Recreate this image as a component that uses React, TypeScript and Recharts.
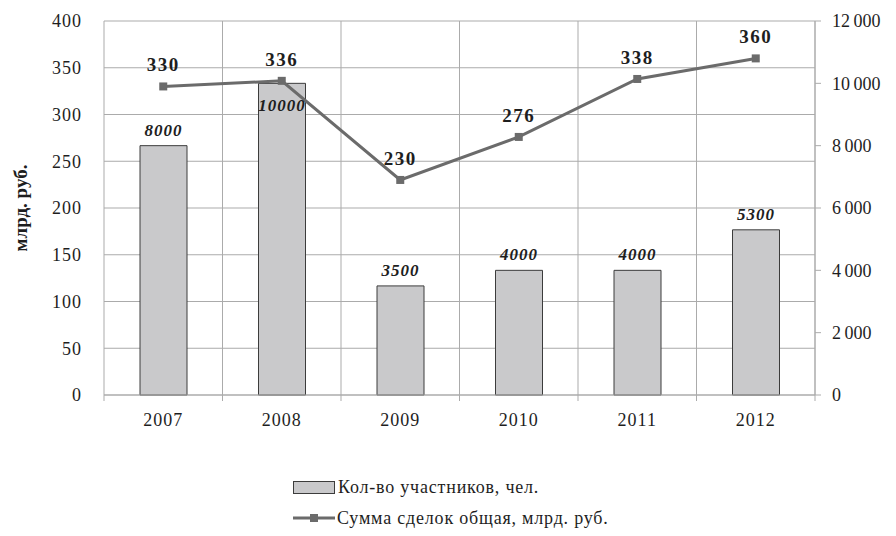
import React from 'react'
import {
  Bar, CartesianGrid, ComposedChart, LabelList, Legend, Line, XAxis, YAxis,
} from 'recharts'

const years = ['2007', '2008', '2009', '2010', '2011', '2012']
const participants = [8000, 10000, 3500, 4000, 4000, 5300]
const dealsSum = [330, 336, 230, 276, 338, 360]
const leftTicks = [0, 50, 100, 150, 200, 250, 300, 350, 400]
const rightTicks = [0, 2000, 4000, 6000, 8000, 10000, 12000]

const barName = 'Кол-во участников, чел.'
const lineName = 'Сумма сделок общая, млрд. руб.'

const data = years.map((y, i) => ({ year: y, participants: participants[i], deals: dealsSum[i] }))

// размеры
const W = 896
const H = 536
const M = { top: 21, right: 0, bottom: 1, left: 0 }
const LEFT_W = 104
const RIGHT_W = 81
const PLOT_W = W - LEFT_W - RIGHT_W
const BAND = PLOT_W / years.length
const PLOT_TOP = 21
const PLOT_BOTTOM = 395

const FONT = '"Liberation Serif", "Times New Roman", Tinos'
const TXT = '#1e1e1e'
const GRID = '#ababab'
const LINE = '#6b6b6b'
const BAR_FILL = '#c9c9cb'
const BAR_STROKE = '#3c3c3c'

const fmtRight = (v: number) => String(v).replace(/\B(?=(\d{3})+(?!\d))/g, '\u2009')

function XTick({ x, y, payload, index }: any) {
  const left = x - BAND / 2
  const right = x + BAND / 2
  return (
    <g>
      <line x1={left} x2={left} y1={y} y2={y + 6} stroke={GRID} />
      {index === years.length - 1 && <line x1={right} x2={right} y1={y} y2={y + 6} stroke={GRID} />}
      <text x={x} y={y + 31} textAnchor="middle" fontSize={18} letterSpacing={1} fill={TXT} style={{ fontFamily: FONT }}>{payload.value}</text>
    </g>
  )
}

function MarkerDot({ cx, cy }: any) {
  if (cx == null || cy == null) return null
  return <rect x={cx - 4} y={cy - 4} width={8} height={8} fill={LINE} />
}

// подпись столбца: если точка линии прямо над вершиной — кладём внутрь
function BarLabel({ x, y, width, value, index }: any) {
  const lineY = PLOT_TOP + (1 - dealsSum[index] / 400) * (PLOT_BOTTOM - PLOT_TOP)
  const inside = y - lineY < 30
  const ty = inside ? y + 28 : y - 10
  return (
    <text x={x + width / 2} y={ty} textAnchor="middle" fontSize={17} letterSpacing={1} fontWeight="bold" fontStyle="italic" fill={TXT} style={{ fontFamily: FONT }}>
      {value}
    </text>
  )
}

function LegendBox() {
  return (
    <div style={{ fontFamily: FONT, fontSize: 18, letterSpacing: 0.8, color: TXT, paddingLeft: 293, paddingTop: 52, height: 58 }}>
      <div style={{ display: 'flex', alignItems: 'center', height: 20 }}>
        <span style={{ display: 'inline-block', width: 40, height: 11, background: BAR_FILL, border: `1px solid ${BAR_STROKE}`, marginRight: 3 }} />
        <span>{barName}</span>
      </div>
      <div style={{ display: 'flex', alignItems: 'center', height: 20, marginTop: 11 }}>
        <svg width={42} height={10} style={{ marginRight: 2 }}>
          <line x1={0} x2={42} y1={5} y2={5} stroke={LINE} strokeWidth={3} />
          <rect x={17} y={1} width={8} height={8} fill={LINE} />
        </svg>
        <span>{lineName}</span>
      </div>
    </div>
  )
}

export default function App() {
  return (
    <div style={{ position: 'absolute', left: 0, top: 0, width: W, height: H, background: '#fff', fontFamily: FONT }}>
      <ComposedChart width={W} height={H} data={data} margin={M} style={{ fontFamily: FONT }}>
        <CartesianGrid
          yAxisId="left"
          stroke={GRID}
          verticalCoordinatesGenerator={({ offset }: any) =>
            years.map((_, i) => offset.left + i * offset.width / years.length).concat(offset.left + offset.width)}
        />
        <XAxis dataKey="year" height={30} tickLine={false} tickSize={0} tickMargin={0} stroke={GRID} tick={<XTick />} interval={0} />
        <YAxis
          yAxisId="left"
          width={LEFT_W}
          domain={[0, 400]}
          ticks={leftTicks}
          axisLine={false}
          tickLine={false}
          tickSize={0}
          tickMargin={22}
          tick={{ fontSize: 18, letterSpacing: 1, fill: TXT, style: { fontFamily: FONT } }}
          label={({ viewBox }: any) => {
            const cx = viewBox.x + 20
            const cy = viewBox.y + viewBox.height / 2
            return (
              <text x={cx} y={cy} transform={`rotate(-90 ${cx} ${cy})`} textAnchor="middle" dominantBaseline="central"
                fontSize={19} fontWeight="bold" fill={TXT} style={{ fontFamily: FONT }}>млрд. руб.</text>
            )
          }}
        />
        <YAxis
          yAxisId="right"
          orientation="right"
          width={RIGHT_W}
          domain={[0, 12000]}
          ticks={rightTicks}
          stroke={GRID}
          tickSize={6}
          tickMargin={11}
          tickFormatter={fmtRight}
          tick={{ fontSize: 18, fill: TXT, style: { fontFamily: FONT } }}
        />
        <Legend verticalAlign="bottom" content={<LegendBox />} />
        <Bar yAxisId="right" dataKey="participants" name={barName} barSize={47} fill={BAR_FILL} stroke={BAR_STROKE} strokeWidth={1} isAnimationActive={false}>
          <LabelList dataKey="participants" content={<BarLabel />} />
        </Bar>
        <Line yAxisId="left" dataKey="deals" name={lineName} stroke={LINE} strokeWidth={3} dot={<MarkerDot />} activeDot={false} isAnimationActive={false}>
          <LabelList dataKey="deals" position="top" offset={15} fontSize={19} letterSpacing={1.5} fontWeight="bold" fill={TXT} style={{ fontFamily: FONT }} />
        </Line>
      </ComposedChart>
    </div>
  )
}
